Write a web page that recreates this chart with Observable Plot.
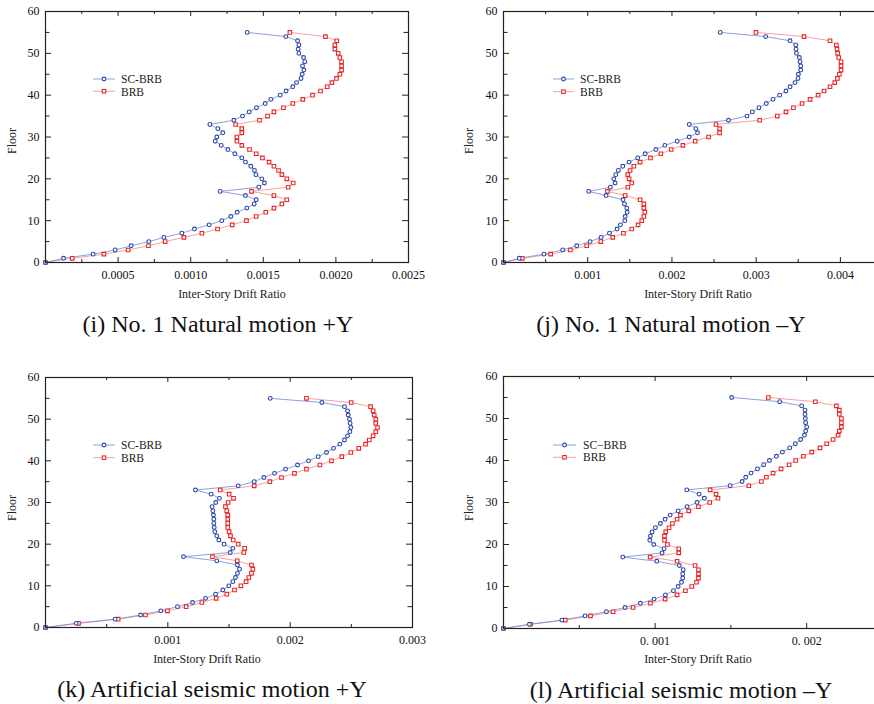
<!DOCTYPE html>
<html>
<head>
<meta charset="utf-8">
<script src="https://cdn.jsdelivr.net/npm/d3@7"></script>
<script src="https://cdn.jsdelivr.net/npm/@observablehq/plot@0.6"></script>
<style>
  html, body { margin: 0; padding: 0; background: #fff; overflow: hidden; }
  #page { position: relative; width: 874px; height: 704px; overflow: hidden; background: #fff;
          font-family: "Liberation Serif", "DejaVu Serif", serif; color: #111; }
  .abs { position: absolute; }
  .cap { font-size: 24px; line-height: 24px; text-align: center; width: 500px; white-space: nowrap; }
  .xt { font-size: 12px; line-height: 12px; text-align: center; width: 300px; white-space: nowrap; color: #222; }
  .yt { font-size: 12px; line-height: 12px; text-align: center; width: 60px; white-space: nowrap; color: #222;
        transform: rotate(-90deg); transform-origin: 50% 50%; }
  .lg { font-size: 11.5px; line-height: 12px; white-space: nowrap; color: #222; }
</style>
</head>
<body>
<div id="page"></div>
<script>
// ---------------- data ----------------
const floors = [0,1,2,3,4,5,6,7,8,9,10,11,12,13,14,15,16,17,18,19,20,21,22,23,24,25,26,27,28,29,30,
  31,32,33,34,35,36,37,38,39,40,41,42,43,44,45,46,47,48,49,50,51,52,53,54,55];

const seriesNames = ["SC-BRB", "BRB"];

// (i) No. 1 Natural motion +Y  (floor 0..55)
const iSC = [0, 1.24e-4, 3.28e-4, 4.80e-4, 5.90e-4, 7.12e-4, 8.15e-4, 9.39e-4, 10.26e-4, 11.27e-4, 12.14e-4,
  12.76e-4, 13.20e-4, 13.87e-4, 14.37e-4, 14.51e-4, 13.77e-4, 12.03e-4, 14.69e-4, 15.08e-4, 14.90e-4,
  14.49e-4, 14.39e-4, 14.14e-4, 13.77e-4, 13.52e-4, 13.04e-4, 12.56e-4, 12.10e-4, 11.69e-4, 11.80e-4,
  12.21e-4, 11.87e-4, 11.32e-4, 12.97e-4, 13.57e-4, 14.03e-4, 14.53e-4, 15.13e-4, 15.52e-4, 16.16e-4,
  16.57e-4, 17.03e-4, 17.29e-4, 17.60e-4, 17.68e-4, 17.79e-4, 17.70e-4, 17.86e-4, 17.77e-4, 17.45e-4,
  17.40e-4, 17.45e-4, 17.36e-4, 16.55e-4, 13.89e-4];
const iBRB = [0, 1.84e-4, 4.02e-4, 5.69e-4, 7.09e-4, 8.24e-4, 9.53e-4, 10.77e-4, 11.85e-4, 12.86e-4, 13.84e-4,
  14.51e-4, 15.17e-4, 15.73e-4, 16.28e-4, 16.62e-4, 15.73e-4, 14.19e-4, 16.71e-4, 17.06e-4, 16.62e-4,
  16.28e-4, 16.05e-4, 15.73e-4, 15.40e-4, 14.94e-4, 14.51e-4, 14.05e-4, 13.52e-4, 13.18e-4, 13.18e-4,
  13.52e-4, 13.52e-4, 13.09e-4, 14.74e-4, 15.29e-4, 15.73e-4, 16.39e-4, 17.03e-4, 17.72e-4, 18.39e-4,
  18.94e-4, 19.40e-4, 19.72e-4, 20.04e-4, 20.27e-4, 20.39e-4, 20.39e-4, 20.39e-4, 20.27e-4, 20.16e-4,
  19.93e-4, 19.93e-4, 20.06e-4, 19.28e-4, 16.83e-4];

// (j) No. 1 Natural motion -Y
const jSC = [0, 1.87e-4, 4.80e-4, 7.03e-4, 8.69e-4, 10.28e-4, 11.59e-4, 12.58e-4, 13.49e-4, 13.88e-4, 14.40e-4,
  14.44e-4, 14.68e-4, 14.64e-4, 14.36e-4, 14.20e-4, 12.18e-4, 10.12e-4, 12.69e-4, 13.25e-4, 13.09e-4,
  13.33e-4, 13.64e-4, 14.16e-4, 14.91e-4, 15.94e-4, 16.82e-4, 18.09e-4, 19.16e-4, 20.62e-4, 22.05e-4,
  23.04e-4, 22.84e-4, 22.05e-4, 26.72e-4, 28.91e-4, 29.54e-4, 30.33e-4, 31.20e-4, 32.00e-4, 32.79e-4,
  33.54e-4, 34.02e-4, 34.61e-4, 34.97e-4, 35.01e-4, 35.29e-4, 35.29e-4, 35.21e-4, 35.13e-4, 34.78e-4,
  34.74e-4, 34.70e-4, 34.02e-4, 31.13e-4, 25.73e-4];
const jBRB = [0, 2.23e-4, 5.60e-4, 7.94e-4, 9.88e-4, 11.55e-4, 12.97e-4, 14.24e-4, 15.23e-4, 15.98e-4, 16.42e-4,
  16.66e-4, 16.78e-4, 16.66e-4, 16.66e-4, 16.22e-4, 14.44e-4, 12.34e-4, 14.76e-4, 15.23e-4, 14.91e-4,
  14.76e-4, 15.03e-4, 15.47e-4, 16.22e-4, 17.45e-4, 18.68e-4, 19.91e-4, 21.30e-4, 22.76e-4, 24.35e-4,
  25.66e-4, 25.66e-4, 25.22e-4, 30.41e-4, 32.51e-4, 33.54e-4, 34.42e-4, 35.45e-4, 36.40e-4, 37.35e-4,
  38.06e-4, 38.77e-4, 39.33e-4, 39.65e-4, 39.88e-4, 40.08e-4, 40.08e-4, 40.08e-4, 39.80e-4, 39.68e-4,
  39.60e-4, 39.52e-4, 38.77e-4, 35.68e-4, 29.97e-4];

// (k) Artificial seismic motion +Y
const kSC = [0, 2.51e-4, 5.69e-4, 7.77e-4, 9.43e-4, 10.79e-4, 12.02e-4, 13.08e-4, 13.90e-4, 14.50e-4, 14.99e-4,
  15.31e-4, 15.53e-4, 15.69e-4, 15.86e-4, 15.69e-4, 14.00e-4, 11.28e-4, 15.10e-4, 15.31e-4, 14.60e-4,
  14.17e-4, 14.00e-4, 13.84e-4, 13.79e-4, 13.76e-4, 13.76e-4, 13.73e-4, 13.68e-4, 13.62e-4, 13.92e-4,
  14.22e-4, 13.54e-4, 12.26e-4, 15.75e-4, 17.06e-4, 17.85e-4, 18.72e-4, 19.62e-4, 20.60e-4, 21.50e-4,
  22.29e-4, 22.97e-4, 23.54e-4, 24.06e-4, 24.44e-4, 24.69e-4, 24.88e-4, 24.96e-4, 24.90e-4, 24.85e-4,
  24.74e-4, 24.69e-4, 24.44e-4, 22.59e-4, 18.37e-4];
const kBRB = [0, 2.70e-4, 5.94e-4, 8.17e-4, 9.97e-4, 11.50e-4, 12.78e-4, 13.95e-4, 14.82e-4, 15.45e-4, 15.97e-4,
  16.40e-4, 16.62e-4, 16.84e-4, 16.95e-4, 16.84e-4, 15.67e-4, 13.65e-4, 16.21e-4, 16.29e-4, 15.75e-4,
  15.34e-4, 15.12e-4, 15.01e-4, 14.90e-4, 14.90e-4, 14.90e-4, 14.90e-4, 14.82e-4, 14.71e-4, 14.93e-4,
  15.37e-4, 15.01e-4, 14.28e-4, 17.06e-4, 18.34e-4, 19.29e-4, 20.35e-4, 21.33e-4, 22.43e-4, 23.38e-4,
  24.22e-4, 24.96e-4, 25.61e-4, 26.16e-4, 26.46e-4, 26.78e-4, 27.00e-4, 27.14e-4, 27.00e-4, 27.00e-4,
  26.87e-4, 26.78e-4, 26.57e-4, 24.99e-4, 21.33e-4];

// (l) Artificial seismic motion -Y
const lSC = [0, 1.71e-4, 3.85e-4, 5.38e-4, 6.79e-4, 8.02e-4, 9.03e-4, 9.93e-4, 10.68e-4, 11.21e-4, 11.52e-4,
  11.74e-4, 11.82e-4, 11.82e-4, 11.85e-4, 11.60e-4, 10.11e-4, 7.87e-4, 10.46e-4, 10.59e-4, 9.91e-4,
  9.65e-4, 9.69e-4, 9.80e-4, 10.02e-4, 10.35e-4, 10.66e-4, 10.99e-4, 11.52e-4, 12.11e-4, 12.77e-4,
  13.25e-4, 12.90e-4, 12.09e-4, 14.95e-4, 15.74e-4, 15.98e-4, 16.33e-4, 16.75e-4, 17.16e-4, 17.54e-4,
  18.00e-4, 18.40e-4, 18.88e-4, 19.25e-4, 19.60e-4, 19.85e-4, 19.93e-4, 20.00e-4, 19.93e-4, 19.91e-4,
  19.89e-4, 19.89e-4, 19.67e-4, 18.22e-4, 15.05e-4];
const lBRB = [0, 1.78e-4, 4.07e-4, 5.74e-4, 7.23e-4, 8.55e-4, 9.69e-4, 10.66e-4, 11.45e-4, 12.00e-4, 12.42e-4,
  12.73e-4, 12.86e-4, 12.86e-4, 12.86e-4, 12.64e-4, 11.45e-4, 9.67e-4, 11.56e-4, 11.56e-4, 10.81e-4,
  10.62e-4, 10.62e-4, 10.70e-4, 10.92e-4, 11.14e-4, 11.45e-4, 11.67e-4, 12.22e-4, 12.86e-4, 13.60e-4,
  14.15e-4, 14.02e-4, 13.63e-4, 16.18e-4, 17.01e-4, 17.34e-4, 17.78e-4, 18.31e-4, 18.84e-4, 19.27e-4,
  19.78e-4, 20.33e-4, 20.88e-4, 21.32e-4, 21.74e-4, 22.07e-4, 22.15e-4, 22.29e-4, 22.29e-4, 22.29e-4,
  22.15e-4, 22.15e-4, 21.96e-4, 20.57e-4, 17.47e-4];

// ticks
const yMajor = [0, 10, 20, 30, 40, 50, 60];
const yMinor = [5, 15, 25, 35, 45, 55];
const yLabels = ["0", "10", "20", "30", "40", "50", "60"];

const xMajorI = [0.0005, 0.0010, 0.0015, 0.0020, 0.0025];
const xMinorI = [0.00025, 0.00075, 0.00125, 0.00175, 0.00225];
const xLabelsI = ["0.0005", "0.0010", "0.0015", "0.0020", "0.0025"];

const xMajorJ = [0.001, 0.002, 0.003, 0.004];
const xMinorJ = [0.0005, 0.0015, 0.0025, 0.0035];
const xLabelsJ = ["0.001", "0.002", "0.003", "0.004"];

const xMajorK = [0.001, 0.002, 0.003];
const xMinorK = [0.0005, 0.0015, 0.0025];
const xLabelsK = ["0.001", "0.002", "0.003"];

const xMajorL = [0.001, 0.002];
const xMinorL = [0.0005, 0.0015];
const xLabelsL = ["0. 001", "0. 002"];

const captions = ["(i) No. 1 Natural motion +Y", "(j) No. 1 Natural motion \u2013Y",
                  "(k) Artificial seismic motion +Y", "(l) Artificial seismic motion \u2013Y"];
const xTitle = "Inter-Story Drift Ratio";
const yTitle = "Floor";

// ---------------- drawing ----------------
const BLUE_LINE = "#7488d6", BLUE_DOT = "#2c47a8";
const RED_LINE = "#f28a8a", RED_DOT = "#e52a2a";
const AX = "#222";

const panels = [
  {sc: iSC, brb: iBRB, left: 0, top: 0, width: 440, height: 285, mt: 11, mb: 23, ml: 45, mr: 32,
   domain: [0, 0.0025], major: xMajorI, minor: xMinorI, labels: xLabelsI, cap: captions[0],
   capX: 218, capBase: 332, xtX: 232, xtBase: 298, ytX: 12, ytY: 141,
   lg: {x: 93, w: 22, y1: 79.3, y2: 91.5, tx: 121}, names: seriesNames},
  {sc: jSC, brb: jBRB, left: 437, top: 0, width: 445, height: 285, mt: 11, mb: 23, ml: 66, mr: 0,
   domain: [0, 0.0045], major: xMajorJ, minor: xMinorJ, labels: xLabelsJ, cap: captions[1],
   capX: 671, capBase: 332, xtX: 698, xtBase: 298, ytX: 469, ytY: 141,
   lg: {x: 553, w: 21, y1: 79.3, y2: 92, tx: 580}, names: seriesNames},
  {sc: kSC, brb: kBRB, left: 0, top: 360, width: 440, height: 290, mt: 17, mb: 23, ml: 45, mr: 28,
   domain: [0, 0.003], major: xMajorK, minor: xMinorK, labels: xLabelsK, cap: captions[2],
   capX: 212, capBase: 697, xtX: 207, xtBase: 663, ytX: 12, ytY: 508,
   lg: {x: 93, w: 22, y1: 445, y2: 457.7, tx: 121}, names: seriesNames},
  {sc: lSC, brb: lBRB, left: 437, top: 360, width: 445, height: 291, mt: 16, mb: 23, ml: 66, mr: 0,
   domain: [0, 0.0025], major: xMajorL, minor: xMinorL, labels: xLabelsL, cap: captions[3],
   capX: 681, capBase: 698, xtX: 698, xtBase: 663, ytX: 469, ytY: 508,
   lg: {x: 553, w: 23, y1: 445, y2: 457.3, tx: 583}, names: ["SC\u2212BRB", "BRB"]}
];

const page = document.getElementById("page");

function addDiv(cls, text, style) {
  const d = document.createElement("div");
  d.className = "abs " + cls;
  d.textContent = text;
  Object.assign(d.style, style);
  page.appendChild(d);
  return d;
}

for (const p of panels) {
  const pw = p.width - p.ml - p.mr;
  const ph = p.height - p.mt - p.mb;
  const scData = floors.map((f, i) => ({floor: f, v: p.sc[i]}));
  const brbData = floors.map((f, i) => ({floor: f, v: p.brb[i]}));
  const fmt = d => { const k = p.major.indexOf(d); return k >= 0 ? p.labels[k] : ""; };

  const chart = Plot.plot({
    width: p.width, height: p.height,
    marginTop: p.mt, marginBottom: p.mb, marginLeft: p.ml, marginRight: p.mr,
    style: {fontFamily: "'Liberation Serif', 'DejaVu Serif', serif", fontSize: "12px", color: "#111",
            background: "transparent", overflow: "visible"},
    x: {domain: p.domain, ticks: p.major, tickFormat: fmt, tickSize: 0, tickPadding: 8, label: null},
    y: {domain: [0, 60], ticks: yMajor, tickFormat: d => yLabels[yMajor.indexOf(d)], tickSize: 0, tickPadding: 6, label: null},
    marks: [
      // inward ticks: bottom & top
      Plot.ruleX(p.major, {x: d => d, insetTop: ph - 5, stroke: AX, strokeWidth: 1}),
      Plot.ruleX(p.major, {x: d => d, insetBottom: ph - 5, stroke: AX, strokeWidth: 1}),
      Plot.ruleX(p.minor, {x: d => d, insetTop: ph - 3, stroke: AX, strokeWidth: 1}),
      Plot.ruleX(p.minor, {x: d => d, insetBottom: ph - 3, stroke: AX, strokeWidth: 1}),
      // inward ticks: left & right
      Plot.ruleY(yMajor, {y: d => d, insetRight: pw - 6, stroke: AX, strokeWidth: 1}),
      Plot.ruleY(yMajor, {y: d => d, insetLeft: pw - 6, stroke: AX, strokeWidth: 1}),
      Plot.ruleY(yMinor, {y: d => d, insetRight: pw - 4.5, stroke: AX, strokeWidth: 1}),
      Plot.ruleY(yMinor, {y: d => d, insetLeft: pw - 4.5, stroke: AX, strokeWidth: 1}),
      // series
      Plot.line(brbData, {x: "v", y: "floor", stroke: RED_LINE, strokeWidth: 0.8}),
      Plot.line(scData, {x: "v", y: "floor", stroke: BLUE_LINE, strokeWidth: 0.8}),
      Plot.dot(brbData, {x: "v", y: "floor", symbol: "square", r: 2, stroke: RED_DOT, strokeWidth: 1.1, fill: "white"}),
      Plot.dot(scData, {x: "v", y: "floor", symbol: "circle", r: 1.9, stroke: BLUE_DOT, strokeWidth: 1.1, fill: "white"}),
      Plot.frame({stroke: AX, strokeWidth: 1.2})
    ]
  });
  chart.style.position = "absolute";
  chart.style.left = p.left + "px";
  chart.style.top = p.top + "px";
  page.appendChild(chart);

  // caption
  addDiv("cap", p.cap, {left: (p.capX - 250) + "px", top: (p.capBase - 20) + "px"});
  // axis titles
  addDiv("xt", xTitle, {left: (p.xtX - 150) + "px", top: (p.xtBase - 10) + "px"});
  addDiv("yt", yTitle, {left: (p.ytX - 30) + "px", top: (p.ytY - 6) + "px"});

  // legend
  const lg = p.lg;
  const svgNS = "http://www.w3.org/2000/svg";
  const lsvg = document.createElementNS(svgNS, "svg");
  lsvg.setAttribute("width", lg.w + 4);
  lsvg.setAttribute("height", 24);
  lsvg.style.position = "absolute";
  lsvg.style.left = (lg.x - 2) + "px";
  lsvg.style.top = (lg.y1 - 4) + "px";
  const rows = [
    {y: 4, line: BLUE_LINE, dot: BLUE_DOT, sym: "circle"},
    {y: 4 + (lg.y2 - lg.y1), line: RED_LINE, dot: RED_DOT, sym: "square"}
  ];
  rows.forEach((r, i) => {
    const ln = document.createElementNS(svgNS, "line");
    ln.setAttribute("x1", 2); ln.setAttribute("x2", lg.w + 2);
    ln.setAttribute("y1", r.y); ln.setAttribute("y2", r.y);
    ln.setAttribute("stroke", r.line); ln.setAttribute("stroke-width", 0.8);
    lsvg.appendChild(ln);
    const cx = 2 + lg.w / 2;
    let m;
    if (r.sym === "circle") {
      m = document.createElementNS(svgNS, "circle");
      m.setAttribute("cx", cx); m.setAttribute("cy", r.y); m.setAttribute("r", 1.9);
    } else {
      m = document.createElementNS(svgNS, "rect");
      m.setAttribute("x", cx - 1.75); m.setAttribute("y", r.y - 1.75);
      m.setAttribute("width", 3.5); m.setAttribute("height", 3.5);
    }
    m.setAttribute("fill", "white"); m.setAttribute("stroke", r.dot); m.setAttribute("stroke-width", 1.1);
    lsvg.appendChild(m);
    addDiv("lg", p.names[i], {left: lg.tx + "px", top: ((i === 0 ? lg.y1 : lg.y2) + 4 - 10) + "px"});
  });
  page.appendChild(lsvg);
}
</script>
</body>
</html>
